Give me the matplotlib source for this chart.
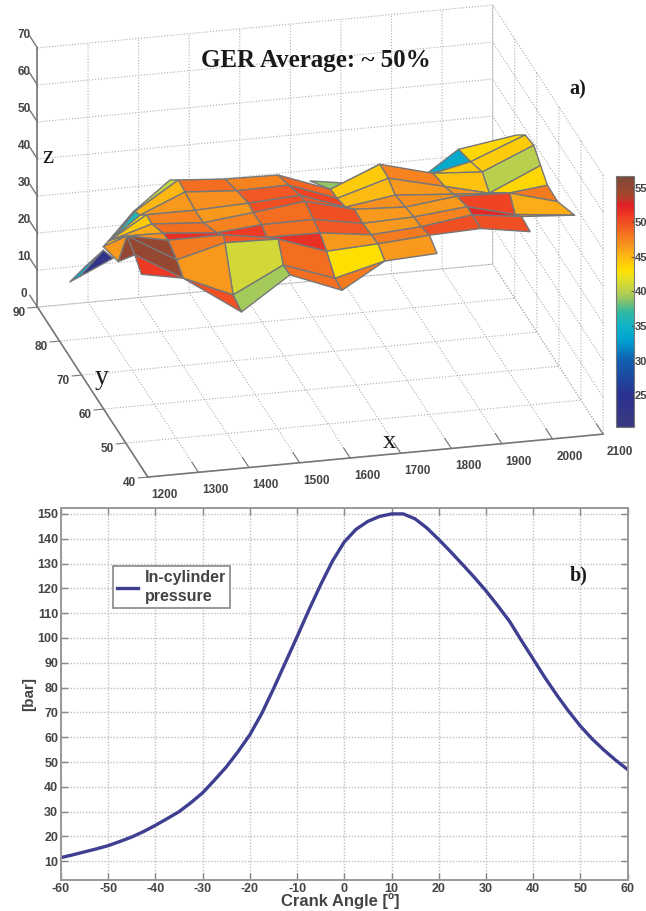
#!/usr/bin/python
import numpy as np
import matplotlib
matplotlib.use('Agg')
from matplotlib import pyplot as plt
from matplotlib.colors import LinearSegmentedColormap, Normalize
from matplotlib.cm import ScalarMappable
from mpl_toolkits.mplot3d import proj3d
from mpl_toolkits.mplot3d.art3d import Poly3DCollection

n = np.nan

# surface nodes, one row per column of the mesh
# the first three columns all sit on the x=1200 edge
x_cols = [1200, 1200, 1200, 1300, 1400, 1500, 1600, 1700, 1800, 1900, 2000, 2100]

y_nodes = np.array([
    [75.3, 70.8, 70.8, n, n, n, n, n, n, n, n],
    [68.5, 60.2, 55.7, n, n, 58.0, 60.2, 60.2, 53.4, 53.4, n],
    [n, 58.0, 51.2, 58.0, 57.2, 56.4, 49.4, 49.4, 49.4, 45.9, 42.9],
    [n, 69.5, 68.8, 66.5, 63.5, 61.2, 56.0, 53.7, 49.9, 46.9, 46.9],
    [n, 75.8, 72.0, 69.0, 64.5, 60.7, 54.7, 51.7, 50.9, 47.2, 43.4],
    [n, n, 73.8, 68.5, 63.2, 61.0, 57.2, 54.9, 49.7, 47.4, 44.4],
    [n, n, 72.6, 68.0, 62.7, 60.5, 56.7, 53.7, 50.7, 46.9, 43.7],
    [n, 81.1, 71.9, 68.8, 65.0, 61.1, 57.2, 53.4, 50.3, 47.2, 47.2],
    [n, 87.9, 72.4, 68.5, 65.4, 60.8, 56.9, 53.8, 49.9, 46.5, n],
    [73.6, 69.0, 71.3, 65.9, 62.0, 60.5, 55.8, 53.5, 49.6, n, n],
    [82.6, 77.1, 71.8, 68.6, 59.4, 59.4, 57.0, 54.0, 50.1, n, n],
    [79.2, 75.3, 71.4, 68.3, 65.2, 60.6, 52.9, 52.9, n, n, n],
])

z_nodes = np.array([
    [20.3, 25.9, 25.9, n, n, n, n, n, n, n, n],
    [30.6, 42.7, 44.7, n, n, 47.1, 43.7, 43.7, 45.9, 45.9, n],
    [n, 47.1, 57.5, 47.1, 48.1, 49.0, 56.5, 56.5, 56.5, 54.6, 52.1],
    [n, 43.3, 44.0, 45.1, 48.0, 47.6, 49.9, 50.1, 48.3, 46.1, 46.1],
    [n, 44.8, 48.3, 47.8, 47.0, 47.1, 49.9, 52.1, 50.7, 40.0, 38.9],
    [n, n, 45.6, 47.3, 48.8, 48.3, 48.5, 47.2, 51.5, 46.6, 46.7],
    [n, n, 46.5, 48.0, 50.1, 50.5, 49.1, 48.2, 46.0, 42.2, 41.9],
    [n, 35.8, 42.0, 42.4, 43.5, 46.5, 46.3, 46.7, 47.1, 45.3, 45.3],
    [n, 27.7, 47.0, 46.8, 45.1, 46.1, 47.0, 47.2, 48.5, 46.7, n],
    [42.3, 46.8, 44.3, 45.7, 47.2, 48.0, 49.5, 49.4, 49.3, n, n],
    [39.1, 40.8, 42.9, 40.1, 48.6, 48.6, 45.0, 47.2, 46.7, n, n],
    [44.8, 48.4, 49.2, 46.6, 44.1, 43.9, 47.3, 47.3, n, n, n],
])

# value behind each face colour, read against the colorbar
c_faces = np.array([
    [34.0, 23.0, n, n, n, n, n, n, n, n],
    [n, n, n, n, n, 45.0, n, 46.5, 55.0, n],
    [n, 29.0, 36.0, 43.0, 44.0, 45.5, 47.0, 55.0, 55.0, 51.0],
    [n, 40.5, 45.0, 46.5, 47.5, 48.5, 51.5, 48.0, 46.5, 50.0],
    [n, n, 48.5, 47.0, 46.5, 47.5, 51.0, 49.5, 41.0, 39.5],
    [n, n, 47.5, 49.5, 50.0, 48.5, 48.5, 51.5, 48.5, 48.5],
    [n, n, 49.0, 50.5, 49.5, 50.0, 49.5, 46.5, 43.0, 48.0],
    [n, 39.0, 44.0, 44.8, 47.0, 46.5, 46.5, 48.0, 46.5, n],
    [n, n, 47.5, 46.5, 47.0, 46.5, 47.5, 50.0, n, n],
    [34.0, 44.0, 44.5, 47.0, 48.0, 50.5, 52.0, 50.0, n, n],
    [43.5, 44.0, 40.0, 43.5, 48.0, 45.5, 47.0, n, n, n],
])

x_ticks = [1200, 1300, 1400, 1500, 1600, 1700, 1800, 1900, 2000, 2100]
y_ticks = [40, 50, 60, 70, 80, 90]
z_ticks = [0, 10, 20, 30, 40, 50, 60, 70]
bar_ticks = [25, 30, 35, 40, 45, 50, 55]

# lower chart
crank = [-60, -57.5, -55, -52.5, -50, -47.5, -45, -42.5, -40, -37.5, -35, -32.5, -30, -27.5, -25, -22.5,
         -20, -17.5, -15, -12.5, -10, -7.5, -5, -2.5, 0, 2.5, 5, 7.5, 10, 12.5, 15, 17.5, 20, 22.5,
         25, 27.5, 30, 32.5, 35, 37.5, 40, 42.5, 45, 47.5, 50, 52.5, 55, 57.5, 60]
pressure = [11.5, 12.6, 13.8, 15.0, 16.3, 18.0, 19.8, 22.0, 24.5, 27.2, 30.0, 33.6, 37.6, 42.7, 48.0, 54.2,
            61.0, 69.5, 79.5, 90.0, 100.5, 111.3, 121.5, 131.0, 138.7, 143.8, 147.0, 149.0, 150.0, 150.0,
            148.0, 144.3, 139.7, 134.8, 129.7, 124.5, 119.0, 113.0, 106.7, 99.0, 91.5, 84.0, 77.0, 70.5,
            64.5, 59.3, 54.8, 50.7, 47.0]

bar_stops = [20.4, 25, 30, 33, 35, 37, 38.5, 40, 42, 43, 45, 47, 49, 51, 52.5, 54, 56.7]
bar_cols = ['#3a3a80', '#2a3090', '#1060b0', '#00a0d0', '#10b4c8', '#30b8a0', '#80c070', '#b8d050',
            '#e8e020', '#ffe000', '#fdb813', '#f7901e', '#f26522', '#ee3a24', '#e01f26', '#a8452c', '#7a4a3a']
norm = Normalize(20.4, 56.7)
cmap = LinearSegmentedColormap.from_list('ger', [((v-20.4)/(56.7-20.4), c) for v, c in zip(bar_stops, bar_cols)])

W, H = 646., 911.
plt.rcParams['axes.unicode_minus'] = False
plt.rcParams['grid.linestyle'] = (0, (1, 1.6))
plt.rcParams['grid.color'] = '#adadad'
plt.rcParams['grid.linewidth'] = 0.8
narrow = ['Liberation Sans Narrow', 'Liberation Sans']

fig = plt.figure(figsize=(W/100, H/100), dpi=100)

def box(left, top, right, bottom):
    return [left/W, 1-bottom/H, (right-left)/W, (bottom-top)/H]

ax = fig.add_axes(box(-39.2, -99.5, 660.8, 600.5), projection='3d', computed_zorder=False)
ax.patch.set_visible(False)
ax.set_proj_type('ortho')
ax.view_init(elev=22.4, azim=-103.9)
ax.set_box_aspect((468.8, 459.3, 280.2), zoom=0.99)
ax.set_xlim(1200, 2100)
ax.set_ylim(40, 90)
ax.set_zlim(0, 70)

quads = []
face_vals = []
for i in range(c_faces.shape[0]):
    for j in range(c_faces.shape[1]):
        if np.isnan(c_faces[i, j]):
            continue
        quads.append([(x_cols[i], y_nodes[i, j], z_nodes[i, j]),
                      (x_cols[i+1], y_nodes[i+1, j], z_nodes[i+1, j]),
                      (x_cols[i+1], y_nodes[i+1, j+1], z_nodes[i+1, j+1]),
                      (x_cols[i], y_nodes[i, j+1], z_nodes[i, j+1])])
        face_vals.append(c_faces[i, j])
ax.add_collection3d(Poly3DCollection(quads, facecolors=cmap(norm(face_vals)),
                                     edgecolors='#777777', linewidths=1.0))

ax.set_xticks(x_ticks)
ax.set_yticks(y_ticks)
ax.set_zticks(z_ticks)
ax.set_xticklabels([])
ax.set_yticklabels([])
ax.set_zticklabels([])
# (outward, inward) share of a twelfth of the neighbour axis
tick_len = {'x': (0.74, 0.0), 'y': (0.0, 0.26), 'z': (0.0, 0.0)}
for name, a in zip('xyz', [ax.xaxis, ax.yaxis, ax.zaxis]):
    a.set_pane_color((1, 1, 1, 0))
    a.pane.set_edgecolor((1, 1, 1, 0))
    a.line.set_color('#777777')
    a.line.set_linewidth(1.2)
    a._axinfo['tick']['outward_factor'] = tick_len[name][0]
    a._axinfo['tick']['inward_factor'] = tick_len[name][1]
    ax.tick_params(axis=name, color='#777777', width=1.0)
ax.zaxis.set_ticks_position('upper')

# the z ticks point back along y, which the axis itself can't do
for t in z_ticks:
    ax.plot([1200, 1200], [90, 93.5], [t, t], color='#777777', lw=1.0)

# tick labels sit off the ticks, along the floor, then go on as plain 2d text
lab_style = dict(family=narrow, fontweight='bold', fontsize=8.5, color='#444444', ha='center', va='center',
                 transform=ax.transData)

def label3d(x, y, z, s):
    px, py, _ = proj3d.proj_transform(x, y, z, ax.get_proj())
    ax.text2D(px, py, s, **lab_style)

for t in x_ticks:
    label3d(t+9.9, 34.6, 0, str(t))
for t in y_ticks:
    label3d(1158.3, t-1.18, 0, str(t))
for t in z_ticks:
    label3d(1190.6, 93.96, t, str(t))

def serif(px, py, s, size, weight='normal'):
    fig.text(px/W, 1-py/H, s, family='Liberation Serif', fontsize=size, fontweight=weight,
             color='#1a1a1a', ha='center', va='center')

serif(316, 61, 'GER Average: ~ 50%', 18, 'bold')
serif(578, 89, 'a)', 14.5, 'bold')
serif(48, 157, 'z', 18)
serif(102, 378, 'y', 20)
serif(389, 442, 'x', 19)

# colorbar
cax = fig.add_axes(box(615.6, 176, 633.7, 427))
cb = fig.colorbar(ScalarMappable(norm=norm, cmap=cmap), cax=cax, ticks=bar_ticks)
cb.outline.set_edgecolor('#777777')
cb.ax.tick_params(length=2, width=0.6, color='#444444', pad=1, direction='in')
for lab in cb.ax.get_yticklabels():
    lab.set_fontfamily(narrow)
    lab.set_fontweight('bold')
    lab.set_fontsize(8)
    lab.set_color('#444444')

# pressure trace
ax2 = fig.add_axes(box(61, 507.7, 627.6, 880))
ax2.plot(crank, pressure, color='#3f3f92', lw=2.4, label='In-cylinder\npressure')
ax2.set_xlim(-60, 60)
ax2.set_ylim(2.46, 152.5)
ax2.set_xticks(np.arange(-60, 61, 10))
ax2.set_yticks(np.arange(10, 151, 10))
ax2.grid(True, linestyle=(0, (1, 1.2)), color='#c0c0c0', lw=1.0)
ax2.tick_params(direction='in', length=5, width=1, color='#888888', top=True, right=True, pad=2)
for lab in ax2.get_xticklabels() + ax2.get_yticklabels():
    lab.set_fontfamily('Liberation Sans')
    lab.set_fontweight('bold')
    lab.set_fontsize(9)
    lab.set_color('#444444')
for s in ax2.spines.values():
    s.set_color('#999999')
    s.set_linewidth(1.4)
fig.text(340.5/W, 1-901/H, 'Crank Angle [º]', family='Liberation Sans', fontweight='bold', fontsize=12,
         color='#444444', ha='center', va='center')
fig.text(29/W, 1-694/H, '[bar]', family='Liberation Sans', fontweight='bold', fontsize=11,
         color='#444444', ha='center', va='center', rotation=90)
leg = ax2.legend(loc='upper left', bbox_to_anchor=((113-61)/566.6, 1-(566-507.7)/372.3), borderaxespad=0,
                 fancybox=False, framealpha=1, edgecolor='#888888', handlelength=1.3, handletextpad=0.45,
                 borderpad=0.25, prop={'family': 'Liberation Sans', 'weight': 'bold', 'size': 11.5})
leg.get_frame().set_linewidth(1.2)
for t in leg.get_texts():
    t.set_color('#444444')
    t.set_linespacing(1.35)
ax2.text(0.914, 0.819, 'b)', transform=ax2.transAxes, family='Liberation Serif', fontweight='bold',
         fontsize=14.5, color='#1a1a1a', ha='center', va='center')

fig.savefig('out.png', dpi=100)
